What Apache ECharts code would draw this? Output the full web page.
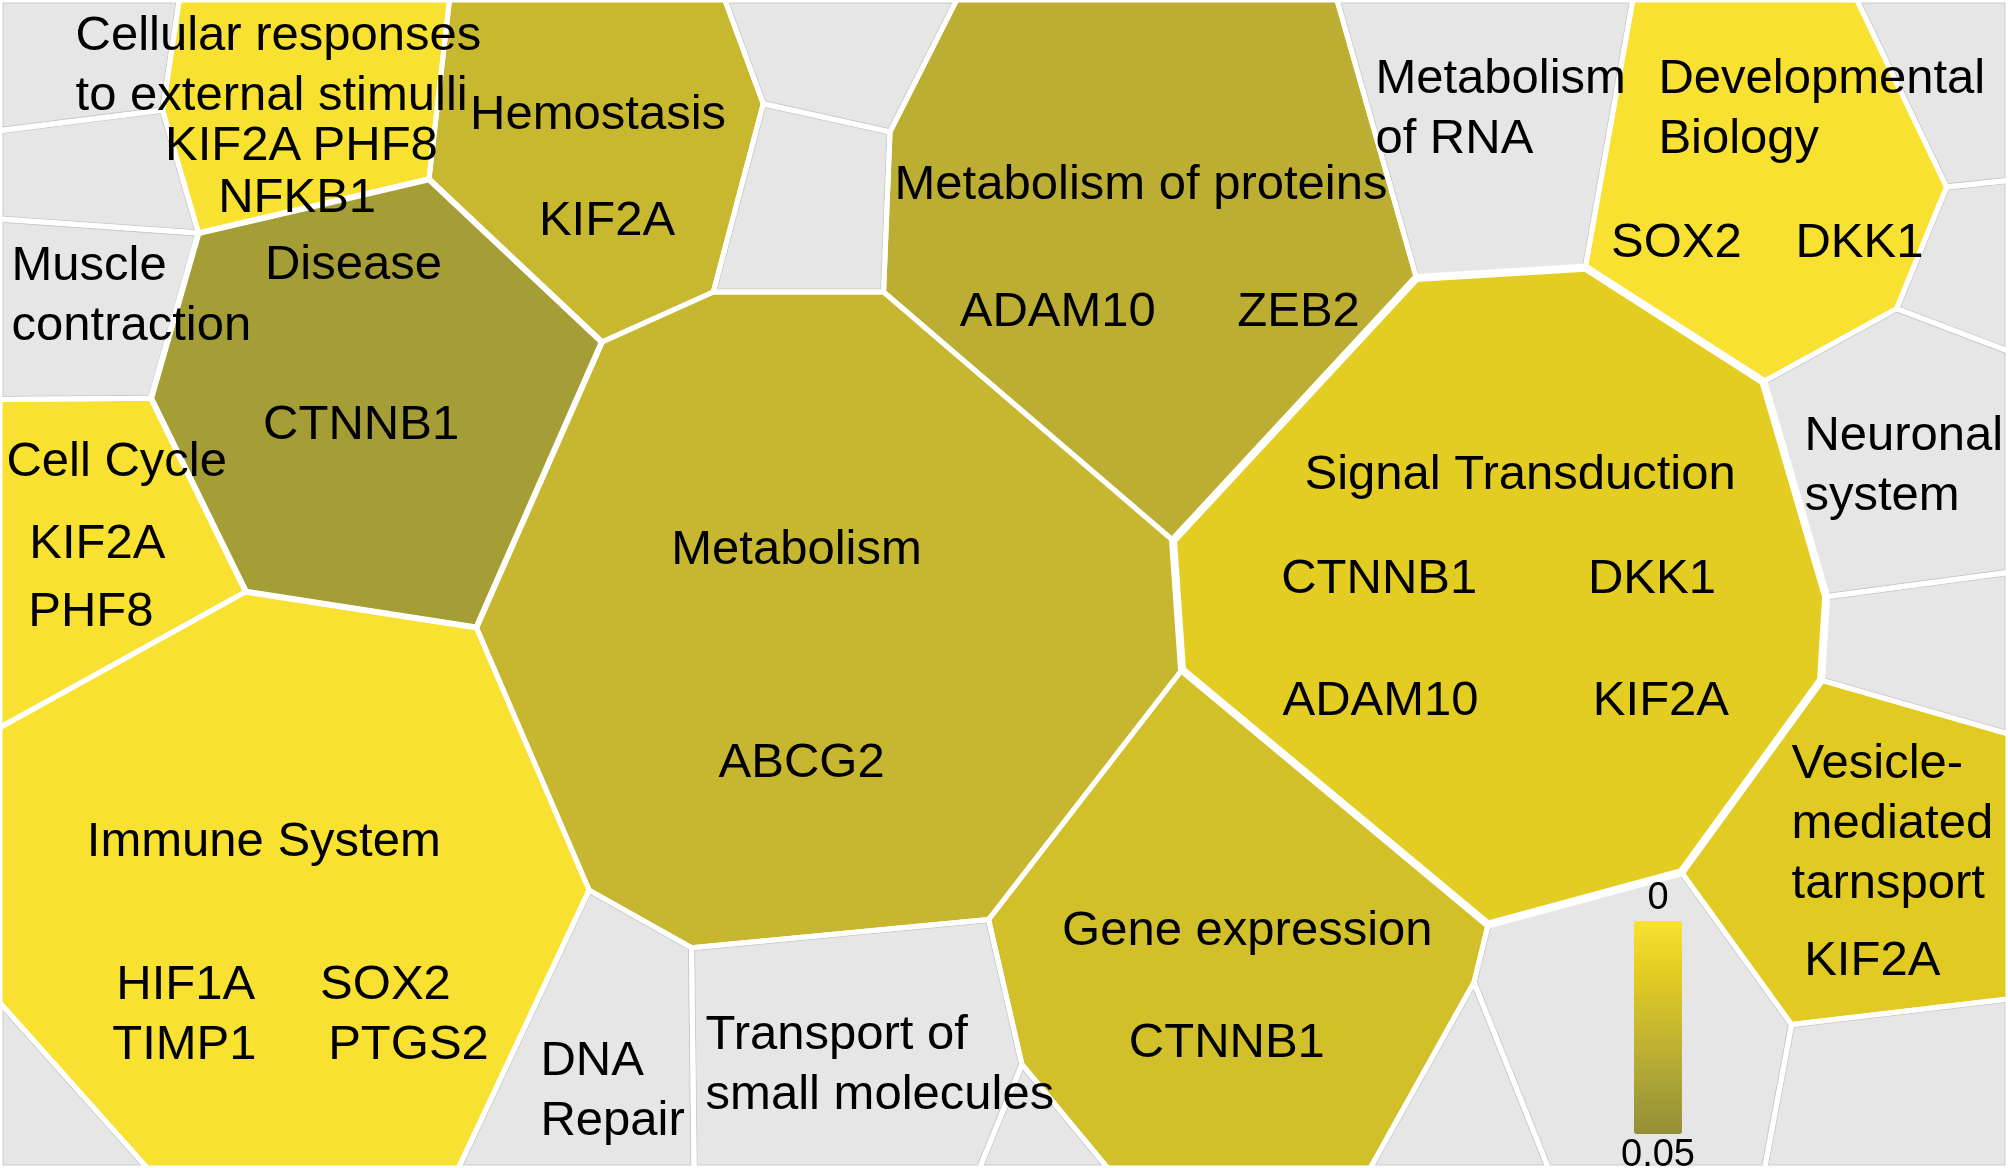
<!DOCTYPE html>
<html>
<head>
<meta charset="utf-8">
<title>Reactome voronoi</title>
<script src="https://cdn.jsdelivr.net/npm/echarts/dist/echarts.min.js"></script>
<style>
  html, body { margin: 0; padding: 0; background: #fff; }
  #chart { width: 2008px; height: 1168px; }
</style>
</head>
<body>
<div id="chart"></div>
<script>
// enriched pathways (coloured cells), their p-values and genes
var pathways = ['Cellular responses to external stimulli', 'Hemostasis', 'Disease', 'Metabolism of proteins',
  'Developmental Biology', 'Cell Cycle', 'Metabolism', 'Signal Transduction', 'Immune System',
  'Gene expression', 'Vesicle-mediated tarnsport'];
var pValues = [0.0005, 0.025, 0.041, 0.031, 0.0005, 0.0005, 0.026, 0.012, 0.0003, 0.02, 0.013];
var pathwayGenes = [['KIF2A', 'PHF8', 'NFKB1'], ['KIF2A'], ['CTNNB1'], ['ADAM10', 'ZEB2'], ['SOX2', 'DKK1'],
  ['KIF2A', 'PHF8'], ['ABCG2'], ['CTNNB1', 'DKK1', 'ADAM10', 'KIF2A'], ['HIF1A', 'SOX2', 'TIMP1', 'PTGS2'],
  ['CTNNB1'], ['KIF2A']];
// pathways without enrichment (grey cells)
var otherPathways = ['Muscle contraction', 'Metabolism of RNA', 'Neuronal system', 'DNA Repair',
  'Transport of small molecules'];
var blankCells = ['g1', 'g2', 'g3', 'g4', 'g5', 'g6', 'g7', 'g8', 'g9', 'g10', 'g11', 'g12'];
// colour bar ends (p-value)
var scaleLabels = ['0', '0.05'];

// ---- layout (voronoi cells in a 1568 x 912 frame) ----
var cellShapes = {
  'Cellular responses to external stimulli': [[140, 0], [351, 0], [335, 140], [155, 182], [127, 86]],
  'Hemostasis': [[351, 0], [566, 0], [596, 81], [557, 228], [470, 267], [335, 140]],
  'Disease': [[155, 182], [335, 140], [470, 267], [372, 490], [192, 462], [118, 311]],
  'Metabolism of proteins': [[747, 0], [1044, 0], [1106, 217], [916, 422], [690, 228], [695, 103]],
  'Developmental Biology': [[1275, 0], [1450, 0], [1520, 146], [1481, 241], [1377, 298], [1238, 209]],
  'Cell Cycle': [[0, 312], [118, 311], [192, 462], [0, 568]],
  'Metabolism': [[470, 267], [557, 228], [690, 228], [916, 422], [923, 523], [772, 718], [540, 740], [460, 695], [372, 490]],
  'Signal Transduction': [[1106, 217], [1238, 209], [1377, 298], [1426, 466], [1422, 531], [1313, 681], [1162, 722], [923, 523], [916, 422]],
  'Immune System': [[0, 568], [192, 462], [372, 490], [460, 695], [358, 912], [115, 912], [0, 783]],
  'Gene expression': [[772, 718], [923, 523], [1162, 722], [1151, 767], [1070, 912], [865, 912], [798, 831]],
  'Vesicle-mediated tarnsport': [[1422, 531], [1568, 573], [1568, 780], [1399, 800], [1313, 681]],
  'Muscle contraction': [[0, 171], [155, 182], [118, 311], [0, 312]],
  'Metabolism of RNA': [[1044, 0], [1275, 0], [1238, 209], [1106, 217]],
  'Neuronal system': [[1377, 298], [1481, 241], [1568, 274], [1568, 447], [1426, 466]],
  'DNA Repair': [[460, 695], [540, 740], [542, 912], [358, 912]],
  'Transport of small molecules': [[540, 740], [772, 718], [798, 831], [765, 912], [542, 912]],
  'g1': [[0, 0], [140, 0], [127, 86], [0, 102]],
  'g2': [[0, 102], [127, 86], [155, 182], [0, 171]],
  'g3': [[566, 0], [747, 0], [695, 103], [596, 81]],
  'g4': [[596, 81], [695, 103], [690, 228], [557, 228]],
  'g5': [[1450, 0], [1568, 0], [1568, 141], [1520, 146]],
  'g6': [[1520, 146], [1568, 141], [1568, 274], [1481, 241]],
  'g7': [[1426, 466], [1568, 447], [1568, 573], [1422, 531]],
  'g8': [[0, 783], [115, 912], [0, 912]],
  'g9': [[798, 831], [865, 912], [765, 912]],
  'g10': [[1151, 767], [1209, 912], [1070, 912]],
  'g11': [[1162, 722], [1313, 681], [1399, 800], [1378, 912], [1209, 912], [1151, 767]],
  'g12': [[1399, 800], [1568, 780], [1568, 912], [1378, 912]]
};

// title anchor: x, y, align, wrapped text
var titleLayout = {
  'Cellular responses to external stimulli': [59, 49, 'left', 'Cellular responses\nto external stimulli'],
  'Hemostasis': [467, 87, 'center'],
  'Disease': [276, 204, 'center'],
  'Metabolism of proteins': [891, 142, 'center'],
  'Developmental Biology': [1295, 82, 'left', 'Developmental\nBiology'],
  'Cell Cycle': [5, 358, 'left'],
  'Metabolism': [622, 427, 'center'],
  'Signal Transduction': [1187, 368, 'center'],
  'Immune System': [206, 655, 'center'],
  'Gene expression': [974, 724, 'center'],
  'Vesicle-mediated tarnsport': [1399, 641, 'left', 'Vesicle-\nmediated\ntarnsport'],
  'Muscle contraction': [9, 228, 'left', 'Muscle\ncontraction'],
  'Metabolism of RNA': [1074, 82, 'left', 'Metabolism\nof RNA'],
  'Neuronal system': [1409, 361, 'left', 'Neuronal\nsystem'],
  'DNA Repair': [422, 849, 'left', 'DNA\nRepair'],
  'Transport of small molecules': [551, 829, 'left', 'Transport of\nsmall molecules']
};
// gene label centres, same order as pathwayGenes
var geneLayout = {
  'Cellular responses to external stimulli': [[182, 111], [293, 111], [232, 152]],
  'Hemostasis': [[474, 170]],
  'Disease': [[282, 329]],
  'Metabolism of proteins': [[826, 241], [1014, 241]],
  'Developmental Biology': [[1309, 187], [1452, 187]],
  'Cell Cycle': [[76, 422], [71, 475]],
  'Metabolism': [[626, 593]],
  'Signal Transduction': [[1077, 449], [1290, 449], [1078, 545], [1297, 545]],
  'Immune System': [[145, 766], [301, 766], [144, 813], [319, 813]],
  'Gene expression': [[958, 812]],
  'Vesicle-mediated tarnsport': [[1462, 748]]
};
var borderWidth = { 'Signal Transduction': 8, 'Disease': 6 };

var FONT = '"Liberation Sans", Arial, Helvetica, sans-serif';
var greyCells = otherPathways.concat(blankCells);
var allCells = greyCells.concat(pathways);
var labelled = pathways.concat(otherPathways);

function points(name, api) {
  return cellShapes[name].map(function (p) { return api.coord(p); });
}
function textEl(api, xy, text, align) {
  var c = api.coord(xy);
  return {
    type: 'text', x: c[0], y: c[1] + 4,
    style: {
      text: text, fill: '#000', fontSize: 49, lineHeight: 60, fontFamily: FONT,
      align: align || 'center', verticalAlign: 'middle'
    }
  };
}

var chart = echarts.init(document.getElementById('chart'), null, { renderer: 'canvas' });

var option = {
  animation: false,
  backgroundColor: '#fff',
  grid: { left: 0, right: 0, top: 0, bottom: 0 },
  xAxis: { type: 'value', min: 0, max: 1568, show: false },
  yAxis: { type: 'value', min: 0, max: 912, inverse: true, show: false },
  visualMap: {
    type: 'continuous',
    seriesIndex: 1,
    dimension: 1,
    min: 0,
    max: 0.05,
    inverse: true,
    orient: 'vertical',
    calculable: false,
    itemWidth: 48,
    itemHeight: 213,
    left: 1621,
    top: 880,
    padding: 0,
    textGap: 3,
    text: [scaleLabels[1], scaleLabels[0]],
    textStyle: { color: '#000', fontSize: 38, fontFamily: FONT },
    inRange: { color: ['#FAE232', '#E2CC22', '#C8B82F', '#ACA437', '#948E37'] }
  },
  series: [
    {
      // grey (not enriched) cells
      type: 'custom',
      silent: true,
      data: greyCells.map(function (n, i) { return [i, 0]; }),
      renderItem: function (params, api) {
        return {
          type: 'polygon',
          shape: { points: points(greyCells[params.dataIndex], api) },
          style: { fill: '#E6E6E6', stroke: '#CBCBCB', lineWidth: 7 }
        };
      }
    },
    {
      // enriched cells, coloured by p-value
      type: 'custom',
      silent: true,
      data: pathways.map(function (n, i) { return [i, pValues[i]]; }),
      renderItem: function (params, api) {
        return {
          type: 'polygon',
          shape: { points: points(pathways[params.dataIndex], api) },
          style: { fill: api.visual('color') }
        };
      }
    },
    {
      // white gaps between cells
      type: 'custom',
      silent: true,
      data: allCells.map(function (n, i) { return [i, 0]; }),
      renderItem: function (params, api) {
        var name = allCells[params.dataIndex];
        return {
          type: 'polygon',
          shape: { points: points(name, api) },
          style: { fill: 'none', stroke: '#fff', lineWidth: borderWidth[name] || 5, lineJoin: 'miter' }
        };
      }
    },
    {
      // pathway names and genes
      type: 'custom',
      silent: true,
      data: labelled.map(function (n, i) { return [i, 0]; }),
      renderItem: function (params, api) {
        var name = labelled[params.dataIndex];
        var t = titleLayout[name];
        var kids = [textEl(api, [t[0], t[1]], t[3] || name, t[2])];
        var gi = pathways.indexOf(name);
        if (gi >= 0) {
          pathwayGenes[gi].forEach(function (g, j) {
            kids.push(textEl(api, geneLayout[name][j], g, 'center'));
          });
        }
        return { type: 'group', children: kids };
      }
    }
  ]
};

chart.setOption(option);
</script>
</body>
</html>
